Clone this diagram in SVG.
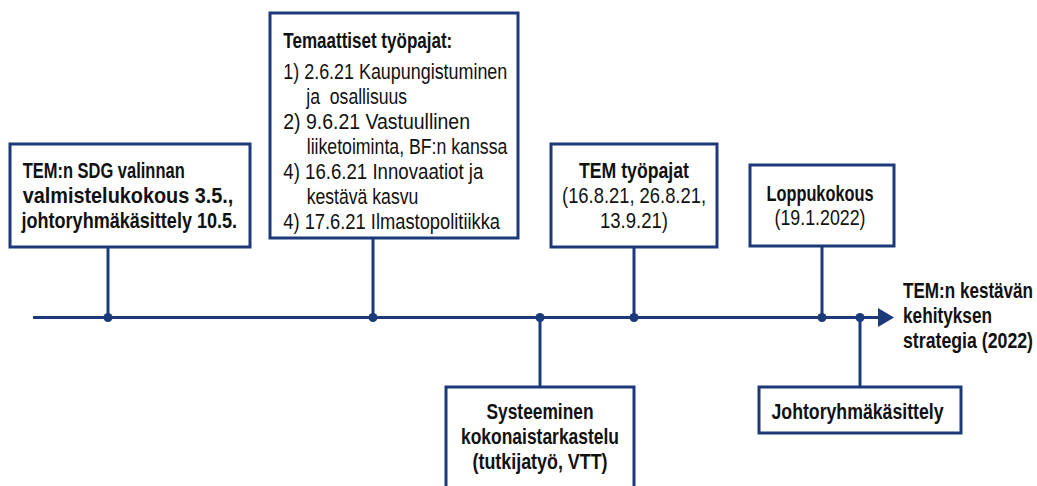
<svg xmlns="http://www.w3.org/2000/svg" width="1037" height="486" viewBox="0 0 1037 486">
<style>
.box{fill:#fff;stroke:#1c3a7a;stroke-width:3}
.ln{stroke:#1c3a7a;stroke-width:3;fill:none}
.dot{fill:#1c3a7a}
text{font-family:"Liberation Sans",Arial,sans-serif;font-size:22px;fill:#111}
.b{font-weight:bold}
.m{text-anchor:middle}
</style>
<rect width="1037" height="486" fill="#fff"/>
<g id="connectors">
<line class="ln" x1="33" y1="317.5" x2="880" y2="317.5"/>
<polygon class="dot" points="878,308 894,317.5 878,327"/>
<line class="ln" x1="108" y1="247" x2="108" y2="317.5"/>
<line class="ln" x1="373" y1="238" x2="373" y2="317.5"/>
<line class="ln" x1="540" y1="317.5" x2="540" y2="387"/>
<line class="ln" x1="634" y1="247" x2="634" y2="317.5"/>
<line class="ln" x1="822" y1="246" x2="822" y2="317.5"/>
<line class="ln" x1="860" y1="317.5" x2="860" y2="387"/>
<circle class="dot" cx="108" cy="317.5" r="4.5"/>
<circle class="dot" cx="373" cy="317.5" r="4.5"/>
<circle class="dot" cx="540" cy="317.5" r="4.5"/>
<circle class="dot" cx="634" cy="317.5" r="4.5"/>
<circle class="dot" cx="822" cy="317.5" r="4.5"/>
<circle class="dot" cx="860" cy="317.5" r="4.5"/>
</g>
<g id="node-sdg">
<rect class="box" x="10" y="144" width="240" height="103"/>
<text class="b" transform="translate(22.7,178) scale(0.8,1)" textLength="202.5" lengthAdjust="spacingAndGlyphs">TEM:n SDG valinnan</text>
<text class="b" transform="translate(22.7,203) scale(0.8,1)" textLength="263.3" lengthAdjust="spacingAndGlyphs">valmistelukokous 3.5.,</text>
<text class="b" transform="translate(21.5,228) scale(0.8,1)" textLength="269.5" lengthAdjust="spacingAndGlyphs">johtoryhmäkäsittely 10.5.</text>
</g>
<g id="node-temaattiset">
<rect class="box" x="270" y="13" width="248" height="225"/>
<text class="b" transform="translate(283.3,48) scale(0.8,1)" textLength="211.25" lengthAdjust="spacingAndGlyphs">Temaattiset työpajat:</text>
<text transform="translate(283.3,79) scale(0.8,1)" textLength="280" lengthAdjust="spacingAndGlyphs">1) 2.6.21 Kaupungistuminen</text>
<text xml:space="preserve" transform="translate(306.3,104) scale(0.8,1)" textLength="126" lengthAdjust="spacingAndGlyphs">ja  osallisuus</text>
<text transform="translate(283.3,129) scale(0.8,1)" textLength="233.4" lengthAdjust="spacingAndGlyphs">2) 9.6.21 Vastuullinen</text>
<text transform="translate(306.7,154) scale(0.8,1)" textLength="250.8" lengthAdjust="spacingAndGlyphs">liiketoiminta, BF:n kanssa</text>
<text transform="translate(283.3,179) scale(0.8,1)" textLength="250" lengthAdjust="spacingAndGlyphs">4) 16.6.21 Innovaatiot ja</text>
<text transform="translate(306.7,204) scale(0.8,1)" textLength="139.5" lengthAdjust="spacingAndGlyphs">kestävä kasvu</text>
<text transform="translate(283.3,229) scale(0.8,1)" textLength="270.9" lengthAdjust="spacingAndGlyphs">4) 17.6.21 Ilmastopolitiikka</text>
</g>
<g id="node-systeeminen">
<rect class="box" x="446" y="387" width="188" height="120"/>
<text class="b m" transform="translate(540,419) scale(0.8,1)" textLength="133.75" lengthAdjust="spacingAndGlyphs">Systeeminen</text>
<text class="b m" transform="translate(540,444) scale(0.8,1)" textLength="197.5" lengthAdjust="spacingAndGlyphs">kokonaistarkastelu</text>
<text class="b m" transform="translate(540,469) scale(0.8,1)" textLength="168.75" lengthAdjust="spacingAndGlyphs">(tutkijatyö, VTT)</text>
</g>
<g id="node-tem-tyopajat">
<rect class="box" x="551" y="144" width="166" height="103"/>
<text class="b m" transform="translate(634,178) scale(0.8,1)" textLength="137.5" lengthAdjust="spacingAndGlyphs">TEM työpajat</text>
<text class="m" transform="translate(634,203) scale(0.8,1)" textLength="180" lengthAdjust="spacingAndGlyphs">(16.8.21, 26.8.21,</text>
<text class="m" transform="translate(634,228) scale(0.8,1)" textLength="85" lengthAdjust="spacingAndGlyphs">13.9.21)</text>
</g>
<g id="node-loppukokous">
<rect class="box" x="750" y="165" width="144" height="81"/>
<text class="b m" transform="translate(820,200.5) scale(0.8,1)" textLength="133.75" lengthAdjust="spacingAndGlyphs">Loppukokous</text>
<text class="m" transform="translate(820,225) scale(0.8,1)" textLength="113.75" lengthAdjust="spacingAndGlyphs">(19.1.2022)</text>
</g>
<g id="node-johtoryhma">
<rect class="box" x="759" y="387" width="202" height="46"/>
<text class="b m" transform="translate(857.5,419) scale(0.8,1)" textLength="215" lengthAdjust="spacingAndGlyphs">Johtoryhmäkäsittely</text>
</g>
<g id="node-strategia">
<text class="b" transform="translate(903,298) scale(0.8,1)" textLength="162.5" lengthAdjust="spacingAndGlyphs">TEM:n kestävän</text>
<text class="b" transform="translate(903,323) scale(0.8,1)" textLength="111.25" lengthAdjust="spacingAndGlyphs">kehityksen</text>
<text class="b" transform="translate(903,348) scale(0.8,1)" textLength="162.5" lengthAdjust="spacingAndGlyphs">strategia (2022)</text>
</g>
</svg>
